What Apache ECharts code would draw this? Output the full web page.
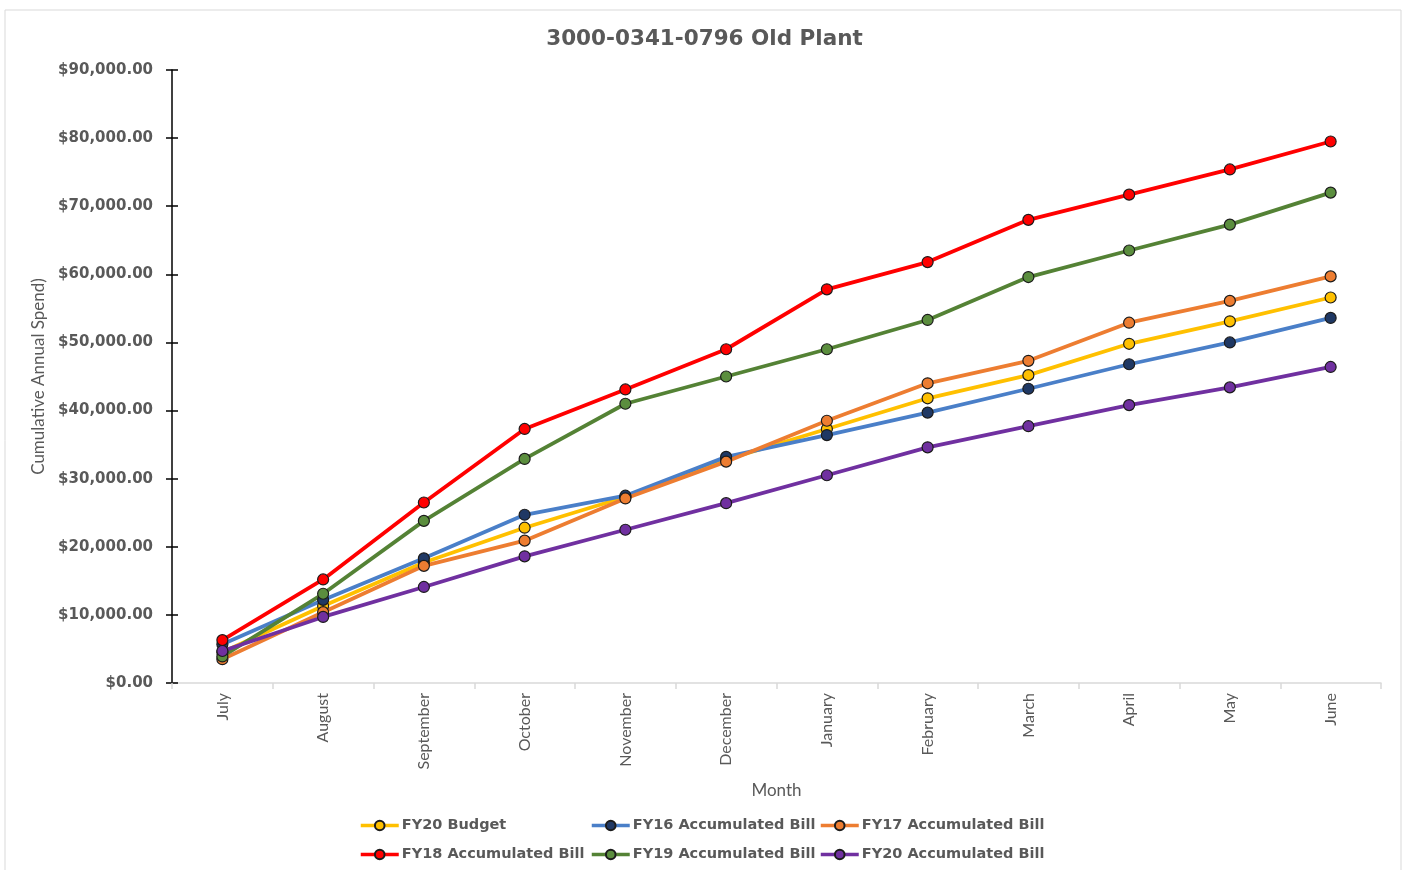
<!DOCTYPE html>
<html>
<head>
<meta charset="utf-8">
<script src="https://cdn.jsdelivr.net/npm/echarts@6/dist/echarts.min.js"></script>
<style>
  html, body { margin: 0; padding: 0; background: #fff; }
  #chart { width: 1409px; height: 870px; }
</style>
</head>
<body>
<div id="chart"></div>
<script>
// months on the x axis
var months = ["July", "August", "September", "October", "November", "December",
  "January", "February", "March", "April", "May", "June"];

// cumulative spend per series
var fy20Budget = [4500, 11300, 17700, 22800, 27300, 32800, 37300, 41800, 45200, 49800, 53100, 56600];
var fy16Bill = [5700, 12200, 18300, 24700, 27500, 33200, 36400, 39700, 43200, 46800, 50000, 53600];
var fy17Bill = [3500, 10400, 17200, 20900, 27100, 32500, 38500, 44000, 47300, 52900, 56100, 59700];
var fy18Bill = [6300, 15200, 26500, 37300, 43100, 49000, 57800, 61800, 68000, 71700, 75400, 79500];
var fy19Bill = [3900, 13100, 23800, 32900, 41000, 45000, 49000, 53300, 59600, 63500, 67300, 72000];
var fy20Bill = [4700, 9700, 14100, 18600, 22500, 26400, 30500, 34600, 37700, 40800, 43400, 46400];

var textColor = "#595959";
var font = "Lato, 'Liberation Sans', sans-serif";
var boldFont = "'DejaVu Sans', Verdana, sans-serif";

function makeSeries(name, data, lineColor, dotColor) {
  return {
    name: name,
    type: "line",
    data: data,
    symbol: "circle",
    symbolSize: 11,
    lineStyle: { color: lineColor, width: 3.8 },
    itemStyle: { color: dotColor, borderColor: "#1b1b1b", borderWidth: 1.2 },
    emphasis: { disabled: true }
  };
}

function legendCol(left, names) {
  return {
    left: left,
    top: 813,
    orient: "vertical",
    itemGap: 14,
    itemWidth: 38,
    itemHeight: 12,
    lineStyle: { width: 3.5 },
    data: names,
    textStyle: { color: textColor, fontSize: 14.5, fontWeight: "bold", fontFamily: boldFont, padding: [0, 0, 0, -2] }
  };
}

var chart = echarts.init(document.getElementById("chart"));
var option = {
  backgroundColor: "#fff",
  animation: false,
  graphic: [{
    type: "rect",
    shape: { x: 5, y: 10, width: 1396, height: 870 },
    style: { fill: "none", stroke: "#d9d9d9", lineWidth: 1 },
    silent: true
  }],
  title: {
    text: "3000-0341-0796 Old Plant",
    left: "center",
    top: 23,
    textStyle: { color: textColor, fontSize: 21.5, fontWeight: "bold", fontFamily: boldFont }
  },
  legend: [
    legendCol(354, ["FY20 Budget", "FY18 Accumulated Bill"]),
    legendCol(585, ["FY16 Accumulated Bill", "FY19 Accumulated Bill"]),
    legendCol(814, ["FY17 Accumulated Bill", "FY20 Accumulated Bill"])
  ],
  grid: { left: 172, right: 28, top: 70, bottom: 187 },
  xAxis: {
    type: "category",
    data: months,
    boundaryGap: true,
    name: "Month",
    nameLocation: "middle",
    nameGap: 99,
    nameTextStyle: { color: textColor, fontSize: 17, fontFamily: font },
    axisLine: { lineStyle: { color: "#d9d9d9", width: 1.5 } },
    axisTick: { show: true, length: 6, lineStyle: { color: "#d9d9d9", width: 1.5 } },
    axisLabel: { rotate: 90, margin: 10, color: textColor, fontSize: 16, fontFamily: font }
  },
  yAxis: [{
    type: "value",
    min: 0,
    max: 90000,
    interval: 10000,
    name: "Cumulative Annual Spend)",
    nameLocation: "middle",
    nameGap: 117,
    nameTextStyle: { color: textColor, fontSize: 17, fontFamily: font },
    axisLine: { show: true, lineStyle: { color: "#000", width: 1.5 } },
    axisTick: { show: true, length: 6, lineStyle: { color: "#000", width: 1.5 } },
    splitLine: { show: false },
    axisLabel: {
      margin: 19,
      color: textColor,
      fontSize: 15,
      fontWeight: "bold",
      fontFamily: boldFont,
      formatter: function (v) {
        return "$" + v.toLocaleString("en-US", { minimumFractionDigits: 2, maximumFractionDigits: 2 });
      }
    }
  }, {
    // inner half of the cross ticks on the value axis
    type: "value",
    position: "left",
    min: 0,
    max: 90000,
    interval: 10000,
    axisLine: { show: false },
    axisTick: { show: true, inside: true, length: 6, lineStyle: { color: "#000", width: 1.5 } },
    axisLabel: { show: false },
    splitLine: { show: false }
  }],
  series: [
    makeSeries("FY20 Budget", fy20Budget, "#FFC000", "#FFC000"),
    makeSeries("FY16 Accumulated Bill", fy16Bill, "#4A7FC8", "#1F3864"),
    makeSeries("FY17 Accumulated Bill", fy17Bill, "#ED7D31", "#ED7D31"),
    makeSeries("FY18 Accumulated Bill", fy18Bill, "#FF0000", "#FF0000"),
    makeSeries("FY19 Accumulated Bill", fy19Bill, "#548235", "#5B8E3E"),
    makeSeries("FY20 Accumulated Bill", fy20Bill, "#7030A0", "#7030A0")
  ]
};
chart.setOption(option);
</script>
</body>
</html>
